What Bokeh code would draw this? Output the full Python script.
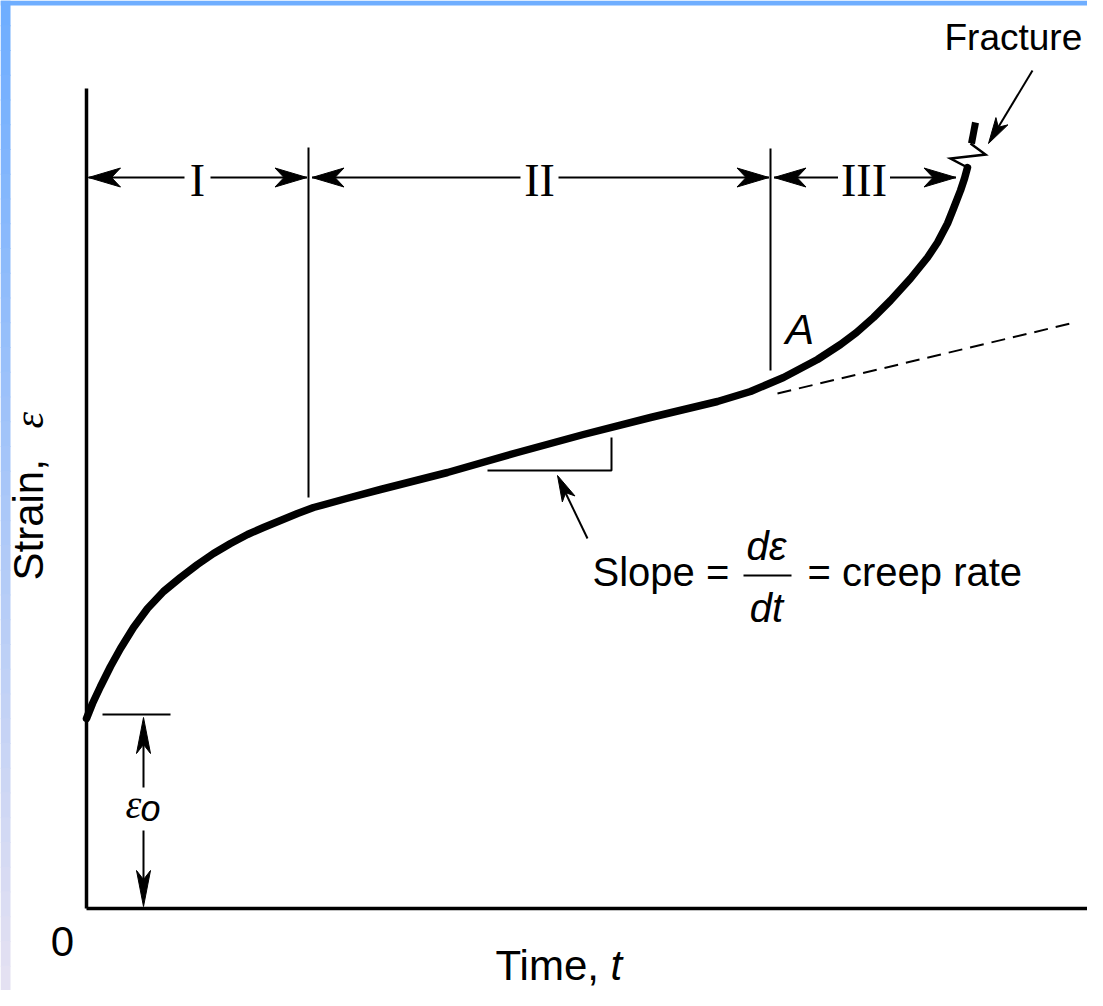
import math
from bokeh.plotting import figure
from bokeh.models import Range1d
from bokeh.core.properties import value
from bokeh.embed import file_html
from bokeh.resources import INLINE

# ---- data (time t, strain eps; arbitrary units) ----
time_t = [0.00, 0.06, 0.14, 0.24, 0.34, 0.47, 0.61, 0.77, 0.94, 1.11, 1.27,
          1.44, 1.61, 1.77, 1.94, 2.11, 2.27, 2.60, 2.94, 3.61, 4.31, 4.97,
          5.64, 6.31, 6.64, 6.97, 7.31, 7.54, 7.70, 7.87, 8.04, 8.24, 8.41,
          8.51, 8.61, 8.67, 8.74, 8.78, 8.81]
strain = [1.90, 2.05, 2.22, 2.42, 2.60, 2.81, 3.00, 3.17, 3.31, 3.44, 3.55,
          3.65, 3.74, 3.81, 3.88, 3.95, 4.01, 4.10, 4.19, 4.36, 4.56, 4.74,
          4.91, 5.07, 5.17, 5.31, 5.49, 5.64, 5.76, 5.91, 6.08, 6.30, 6.51,
          6.66, 6.85, 7.00, 7.18, 7.30, 7.41]
eps0 = 1.94
stage_bounds = [0.0, 2.22, 6.84, 8.71]
stage_labels = ["I", "II", "III"]
stage_gap = [0.13, 0.19, 0.26]
stage_level = 7.31
bound_tops = [7.61, 7.60]
bound_bottoms = [4.11, 5.38]
tangent_t = [6.91, 9.84]
tangent_eps = [5.15, 5.85]
tri_t = [4.01, 5.25, 5.25]
tri_eps = [4.38, 4.38, 4.71]
frac_t = [8.81, 8.64, 8.99, 8.84]
frac_eps = [7.41, 7.50, 7.54, 7.65]
stub_t = [8.85, 8.89]
stub_eps = [7.65, 7.86]
t_max, eps_max = 10.3, 8.20

PX = 0.01  # data units per pixel
X0, X1 = -0.86, 10.01
Y0, Y1 = -0.82, 9.08

p = figure(width=1087, height=990, x_range=Range1d(X0, X1),
           y_range=Range1d(Y0, Y1), output_backend="svg",
           toolbar_location=None, min_border=0)
p.axis.visible = False
p.grid.visible = False
p.outline_line_color = None
p.background_fill_color = "white"
p.border_fill_color = "white"

# decorative blue frame (top strip and fading left strip)
top_c = (0x6F, 0xAE, 0xFF)
bot_c = (0xE4, 0xE1, 0xF2)
nb = 40
lx0, lx1, lb, lt, cols = [], [], [], [], []
for i in range(nb):
    f = i / (nb - 1)
    r = int(top_c[0] + (bot_c[0] - top_c[0]) * f)
    g = int(top_c[1] + (bot_c[1] - top_c[1]) * f)
    b = int(top_c[2] + (bot_c[2] - top_c[2]) * f)
    y_top = Y1 - (Y1 - Y0) * i / nb
    y_bot = Y1 - (Y1 - Y0) * (i + 1) / nb
    lx0.append(X0)
    lx1.append(X0 + 0.10)
    lt.append(y_top)
    lb.append(y_bot - 0.01)
    cols.append("#%02x%02x%02x" % (r, g, b))
p.quad(left=lx0, right=lx1, bottom=lb, top=lt, fill_color=cols, line_color=None)
p.quad(left=[X0], right=[X1], bottom=[Y1 - 0.05], top=[Y1], fill_color="#6FAEFF",
       line_color=None)

heads_x, heads_y = [], []


def head(tx, ty, dx, dy, L=30, W=8.5, notch=22):
    n = math.hypot(dx, dy)
    ux, uy = dx / n, dy / n
    px_, py_ = -uy, ux
    bx, by = tx - ux * L * PX, ty - uy * L * PX
    nx, ny = tx - ux * notch * PX, ty - uy * notch * PX
    heads_x.append([tx, bx + px_ * W * PX, nx, bx - px_ * W * PX])
    heads_y.append([ty, by + py_ * W * PX, ny, by - py_ * W * PX])


# axes
p.line([0, 0], [0, eps_max], line_color="black", line_width=3.5)
p.line([0, t_max], [0, 0], line_color="black", line_width=3.5)

# stage boundaries
p.segment(x0=stage_bounds[1:3], y0=bound_bottoms, x1=stage_bounds[1:3], y1=bound_tops,
          line_color="black", line_width=2)

# stage dimension arrows
sx0, sy0, sx1, sy1 = [], [], [], []
for i in range(3):
    a, b = stage_bounds[i], stage_bounds[i + 1]
    c = (a + b) / 2
    la = a + (0.02 if i == 0 else 0.035)
    rb = b - 0.015
    sx0 += [c - stage_gap[i], c + stage_gap[i]]
    sx1 += [la, rb]
    sy0 += [stage_level, stage_level]
    sy1 += [stage_level, stage_level]
    head(la, stage_level, -1, 0, L=32, W=9.5, notch=23)
    head(rb, stage_level, 1, 0, L=32, W=9.5, notch=23)
p.segment(x0=sx0, y0=sy0, x1=sx1, y1=sy1, line_color="black", line_width=2)
centers = [(stage_bounds[i] + stage_bounds[i + 1]) / 2 for i in range(3)]
p.text(x=centers, y=[stage_level - 0.03] * 3, text=stage_labels,
       text_font=value("Liberation Serif"), text_font_size="46px",
       text_align="center", text_baseline="middle", text_color="black")

# tangent (dashed)
p.line(tangent_t, tangent_eps, line_color="black", line_width=2, line_dash="14 8")

# slope triangle
p.line(tri_t, tri_eps, line_color="black", line_width=2)

# creep curve
p.line(time_t, strain, line_color="black", line_width=7.5, line_cap="round",
       line_join="round")

# fracture zigzag
p.line(frac_t, frac_eps, line_color="black", line_width=2.5, line_join="miter")
p.line(stub_t, stub_eps, line_color="black", line_width=7)

# fracture arrow
p.segment(x0=[9.46], y0=[8.38], x1=[9.08], y1=[7.75], line_color="black", line_width=2)
head(9.02, 7.65, 9.02 - 9.46, 7.65 - 8.38, L=26, W=7, notch=19)

# slope arrow
p.segment(x0=[5.01], y0=[3.70], x1=[4.75], y1=[4.24], line_color="black", line_width=2)
head(4.71, 4.33, 4.71 - 5.01, 4.33 - 3.70, L=26, W=7, notch=19)

# eps0 dimension
p.line([0.16, 0.84], [eps0, eps0], line_color="black", line_width=2)
p.segment(x0=[0.57, 0.57], y0=[1.21, 0.78], x1=[0.57, 0.57], y1=[1.80, 0.12],
          line_color="black", line_width=2)
head(0.57, 1.91, 0, 1, L=36, W=7, notch=27)
head(0.57, 0.02, 0, -1, L=36, W=7, notch=27)

p.patches(heads_x, heads_y, fill_color="black", line_color="black", line_width=1)

sans = value("Liberation Sans")
serif = value("Liberation Serif")
# texts (anchored at their vertical centre)
p.text(x=[8.58], y=[8.715], text=["Fracture"], text_font=sans, text_font_size="37px",
       text_align="left", text_baseline="middle", text_color="black")
p.text(x=[6.99], y=[5.80], text=["A"], text_font=sans, text_font_style="italic",
       text_font_size="43px", text_align="left", text_baseline="middle")
p.text(x=[5.06, 7.21], y=[3.37, 3.37], text=["Slope =", "= creep rate"], text_font=sans,
       text_font_size="40px", text_align="left", text_baseline="middle")
p.text(x=[6.80, 6.80], y=[3.63, 3.01], text=["dε", "dt"], text_font=sans,
       text_font_style="italic", text_font_size="40px", text_align="center",
       text_baseline="middle")
p.line([6.57, 7.05], [3.33, 3.33], line_color="black", line_width=2)

p.text(x=[4.09], y=[-0.57], text=["Time,"], text_font=sans, text_font_size="42px",
       text_align="left", text_baseline="middle")
p.text(x=[5.24], y=[-0.57], text=["t"], text_font=sans, text_font_style="italic",
       text_font_size="42px", text_align="left", text_baseline="middle")
p.text(x=[-0.24], y=[-0.33], text=["0"], text_font=sans, text_font_size="42px",
       text_align="center", text_baseline="middle")
p.text(x=[-0.58], y=[3.28], text=["Strain,"], text_font=sans, text_font_size="42px",
       text_align="left", text_baseline="middle", angle=math.pi / 2)
p.text(x=[-0.58], y=[4.80], text=["ε"], text_font=serif,
       text_font_style="italic", text_font_size="42px", text_align="left",
       text_baseline="middle", angle=math.pi / 2)
p.text(x=[0.39], y=[1.04], text=["ε"], text_font=serif,
       text_font_style="italic", text_font_size="40px", text_align="left",
       text_baseline="middle")
p.text(x=[0.54], y=[1.00], text=["o"], text_font=sans, text_font_style="italic",
       text_font_size="36px", text_align="left", text_baseline="middle")

open("out.html", "w").write(file_html(p, INLINE))
